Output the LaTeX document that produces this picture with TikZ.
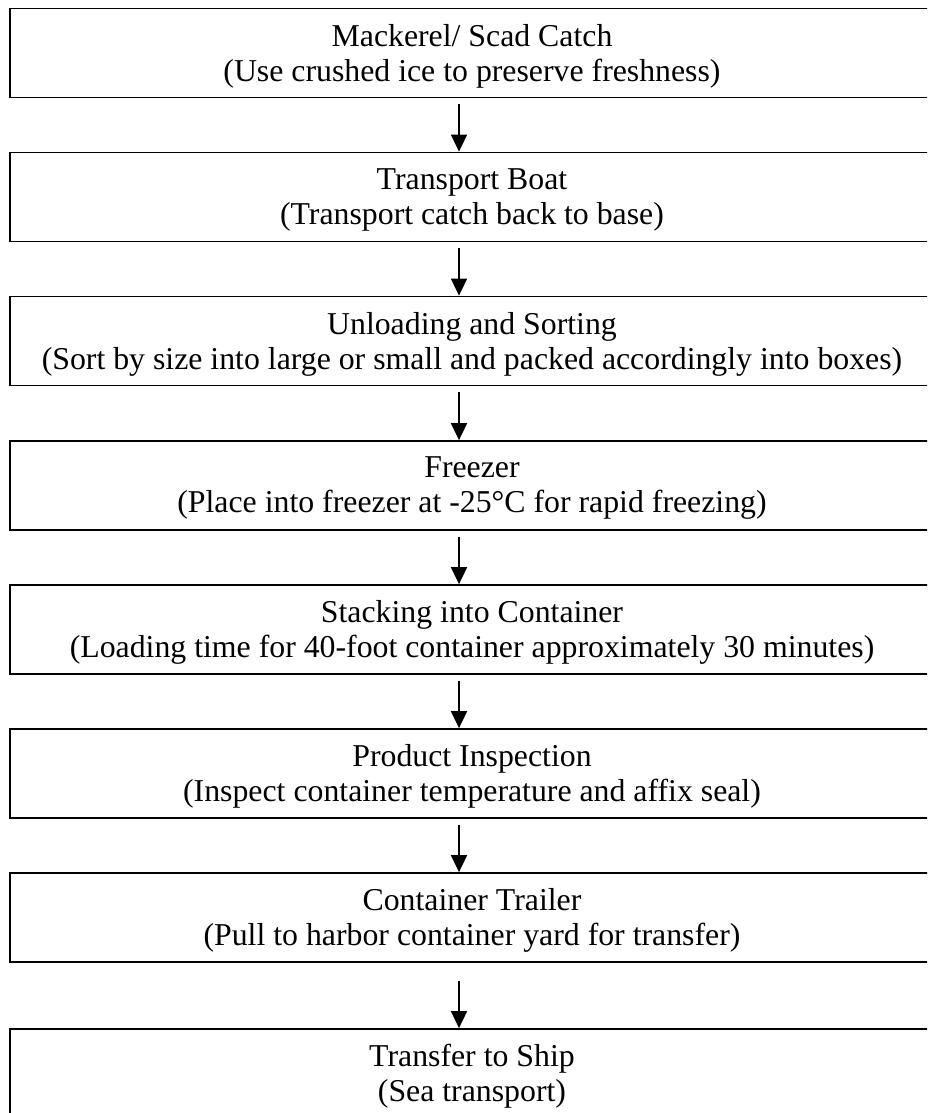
\documentclass[tikz,border=0pt]{standalone}
\usepackage{fontspec}
\setmainfont{Liberation Serif}
\usetikzlibrary{arrows.meta}
\tikzset{
  stepbox/.style={draw=black, line width=1.8pt, minimum width=924pt, minimum height=89pt, inner sep=0pt},
  steptext/.style={inner sep=0pt, align=center, yshift=-3pt, font=\fontsize{31.8}{35}\selectfont},
  flowarr/.style={line width=1.8pt, -{Triangle[width=16pt,length=17pt]}, shorten <=6pt}
}
\begin{document}
\begin{tikzpicture}[x=1pt,y=-1pt]
\useasboundingbox (0,0) rectangle (927,1113);
\clip (0,0) rectangle (927,1113);
\fill[white] (0,0) rectangle (927,1113);
\coordinate (ax) at (459,0);
\node[stepbox] (b1) at (472,53) {};
\node[stepbox] (b2) at (472,197) {};
\node[stepbox] (b3) at (472,341) {};
\node[stepbox] (b4) at (472,485.5) {};
\node[stepbox] (b5) at (472,629.5) {};
\node[stepbox] (b6) at (472,773.5) {};
\node[stepbox] (b7) at (472,917.5) {};
\node[stepbox] (b8) at (472,1073.5) {};
\node[steptext] (t1) at (b1) {Mackerel/ Scad Catch\\(Use crushed ice to preserve freshness)};
\node[steptext] (t2) at (b2) {Transport Boat\\(Transport catch back to base)};
\node[steptext] (t3) at (b3) {Unloading and Sorting\\(Sort by size into large or small and packed accordingly into boxes)};
\node[steptext] (t4) at (b4) {Freezer\\(Place into freezer at -25°C for rapid freezing)};
\node[steptext] (t5) at (b5) {Stacking into Container\\(Loading time for 40-foot container approximately 30 minutes)};
\node[steptext] (t6) at (b6) {Product Inspection\\(Inspect container temperature and affix seal)};
\node[steptext] (t7) at (b7) {Container Trailer\\(Pull to harbor container yard for transfer)};
\node[steptext] (t8) at (b8) {Transfer to Ship\\(Sea transport)};
\draw[flowarr] (b1.south -| ax) -- (b2.north -| ax);
\draw[flowarr] (b2.south -| ax) -- (b3.north -| ax);
\draw[flowarr] (b3.south -| ax) -- (b4.north -| ax);
\draw[flowarr] (b4.south -| ax) -- (b5.north -| ax);
\draw[flowarr] (b5.south -| ax) -- (b6.north -| ax);
\draw[flowarr] (b6.south -| ax) -- (b7.north -| ax);
\draw[flowarr, shorten <=18pt] (b7.south -| ax) -- (b8.north -| ax);
\end{tikzpicture}
\end{document}
